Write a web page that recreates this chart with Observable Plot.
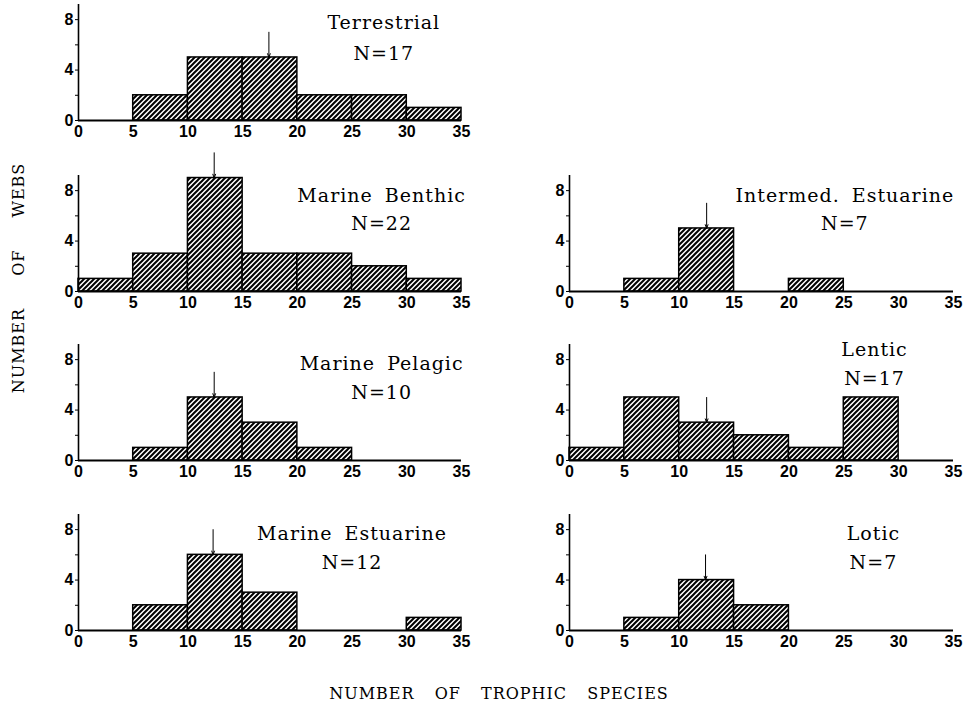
<!DOCTYPE html>
<html>
<head>
<meta charset="utf-8">
<script src="https://cdn.jsdelivr.net/npm/d3@7"></script>
<script src="https://cdn.jsdelivr.net/npm/@observablehq/plot@0.6"></script>
<style>
  html, body { margin: 0; padding: 0; background: #fff; }
  #chart { position: relative; width: 967px; height: 710px; overflow: hidden; background: #fff; }
  .panel { position: absolute; }
  .axis-title { position: absolute; font-family: "DejaVu Serif", serif; font-size: 16px; color: #000; white-space: nowrap; letter-spacing: 1px; word-spacing: 14px; }
  #ytitle { word-spacing: 26px; }
</style>
</head>
<body>
<div id="chart"></div>
<script>
// ---- data ----
const binEdges = [0, 5, 10, 15, 20, 25, 30, 35];
const habitats = ["Terrestrial", "Marine Benthic", "Intermed. Estuarine", "Marine Pelagic", "Lentic", "Marine Estuarine", "Lotic"];
const webCounts = [17, 22, 7, 10, 17, 12, 7];
const countsTerrestrial = [0, 2, 5, 5, 2, 2, 1];
const countsMarineBenthic = [1, 3, 9, 3, 3, 2, 1];
const countsIntermedEstuarine = [0, 1, 5, 0, 1, 0, 0];
const countsMarinePelagic = [0, 1, 5, 3, 1, 0, 0];
const countsLentic = [1, 5, 3, 2, 1, 5, 0];
const countsMarineEstuarine = [0, 2, 6, 3, 0, 0, 1];
const countsLotic = [0, 1, 4, 2, 0, 0, 0];
const arrowAt = [17.4, 12.4, 12.5, 12.4, 12.5, 12.3, 12.4];
const xTicks = [0, 5, 10, 15, 20, 25, 30, 35];
const yTicks = [0, 2, 4, 6, 8];
const yLabelTicks = [0, 4, 8];

const allCounts = [countsTerrestrial, countsMarineBenthic, countsIntermedEstuarine, countsMarinePelagic, countsLentic, countsMarineEstuarine, countsLotic];

// ---- layout ----
const rowBaseline = [120, 291, 460, 630];
const cell = [[0,0],[1,0],[1,1],[2,0],[2,1],[3,0],[3,1]];
const colLeft = [38, 529];
const colWidth = [440, 438];
const colMarginRight = [17, 14];
const mTop = 30, plotH = 116, mBottom = 26, mLeft = 40;
const titlePos = [[27.9, 7.75, 5.3], [27.7, 7.6, 5.35], [25.1, 7.6, 5.35], [27.7, 7.7, 5.4], [27.8, 8.8, 6.5], [25.0, 7.7, 5.36], [27.7, 7.7, 5.4]];

const chart = document.getElementById("chart");

habitats.forEach((name, i) => {
  const counts = allCounts[i];
  const bars = binEdges.slice(0, -1).map((b, k) => ({x1: b, x2: binEdges[k + 1], count: counts[k]})).filter(d => d.count > 0);
  const peakIdx = Math.floor(arrowAt[i] / 5);
  const barTop = counts[peakIdx];
  const arrowData = [{x: arrowAt[i], top: barTop + 2, bottom: barTop}];
  const [tx, ty1, ty2] = titlePos[i];
  const labels = [{x: tx, y: ty1, t: name}, {x: tx, y: ty2, t: "N=" + webCounts[i]}];
  const [row, col] = cell[i];
  const pid = "hatch" + i;

  const svg = Plot.plot({
    width: colWidth[col],
    height: mTop + plotH + mBottom,
    marginLeft: mLeft,
    marginRight: colMarginRight[col],
    marginTop: mTop,
    marginBottom: mBottom,
    style: {background: "transparent", overflow: "visible", fontFamily: "Liberation Sans, sans-serif", fontSize: "16px"},
    x: {domain: [0, 35], axis: null},
    y: {domain: [0, 9.2], axis: null},
    marks: [
      Plot.rectY(bars, {x1: "x1", x2: "x2", y: "count", fill: `url(#${pid})`, stroke: "black", strokeWidth: 1.5}),
      Plot.ruleY([0], {stroke: "black", strokeWidth: 2}),
      Plot.ruleX([0], {y1: 0, y2: 9.2, stroke: "black", strokeWidth: 1.6}),
      Plot.axisX({ticks: xTicks, tickSize: 0, tickPadding: 5, label: null, fill: "black"}),
      Plot.axisY({ticks: yTicks, tickSize: 3, tickPadding: 2, label: null, fill: "black", stroke: "black",
        tickFormat: d => yLabelTicks.includes(d) ? String(d) : ""}),
      Plot.arrow(arrowData, {x1: "x", x2: "x", y1: "top", y2: "bottom", stroke: "black", strokeWidth: 1, headLength: 6, headAngle: 40}),
      Plot.text(labels, {x: "x", y: "y", text: "t", fontSize: 19, fontFamily: "DejaVu Serif, serif", fill: "black"})
    ]
  });

  const s = d3.select(svg);
  const defs = s.insert("defs", ":first-child");
  const pat = defs.append("pattern").attr("id", pid).attr("patternUnits", "userSpaceOnUse").attr("width", 5).attr("height", 5);
  pat.append("rect").attr("width", 5).attr("height", 5).attr("fill", "white");
  pat.append("path").attr("d", "M-1,1 L1,-1 M0,5 L5,0 M4,6 L6,4").attr("stroke", "black").attr("stroke-width", 2);
  s.selectAll("g[aria-label='text'] text").style("letter-spacing", "1px").style("word-spacing", "5px");
  s.selectAll("g[aria-label='x-axis tick label'], g[aria-label='y-axis tick label']")
    .attr("font-weight", "bold").attr("font-family", "Liberation Sans, sans-serif");

  svg.classList.add("panel");
  svg.style.left = colLeft[col] + "px";
  svg.style.top = (rowBaseline[row] - mTop - plotH) + "px";
  chart.appendChild(svg);
});

const yTitle = document.createElement("div");
yTitle.className = "axis-title";
yTitle.id = "ytitle";
yTitle.textContent = "NUMBER OF WEBS";
yTitle.style.left = "18px";
yTitle.style.top = "278px";
yTitle.style.transform = "translate(-50%, -50%) rotate(-90deg)";
chart.appendChild(yTitle);

const xTitle = document.createElement("div");
xTitle.className = "axis-title";
xTitle.textContent = "NUMBER OF TROPHIC SPECIES";
xTitle.style.left = "499px";
xTitle.style.top = "693px";
xTitle.style.transform = "translate(-50%, -50%)";
chart.appendChild(xTitle);
</script>
</body>
</html>
